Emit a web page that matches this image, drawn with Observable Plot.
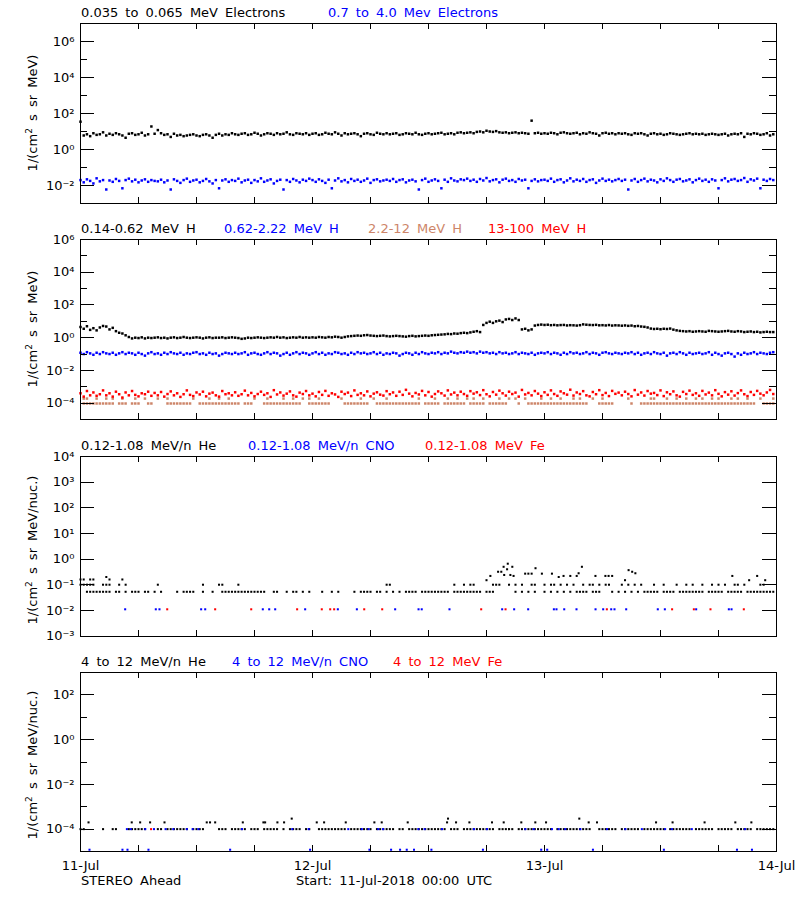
<!DOCTYPE html>
<html><head><meta charset="utf-8">
<script src="https://cdn.jsdelivr.net/npm/d3@7"></script>
<script src="https://cdn.jsdelivr.net/npm/@observablehq/plot@0.6"></script>
<style>
body{margin:0;background:#fff}
#root{position:relative;width:800px;height:900px;font-family:"DejaVu Sans",sans-serif;font-size:13px;word-spacing:3px;color:#000;overflow:hidden}
.t{position:absolute;white-space:pre;line-height:14px}
.yl{position:absolute;white-space:nowrap;line-height:14px;transform:translate(-50%,-50%) rotate(-90deg)}
.yl sup{font-size:9px;vertical-align:5px;line-height:0}
</style></head><body><div id="root"></div>
<script>
// ---------------- DATA (time in hours from 11-Jul-2018 00:00 UTC; dense series are 20-minute bins) ----------------
const binHours = 1 / 3;
const dayTickHours = [0, 24, 48, 72];
const dayTickLabels = ["11-Jul", "12-Jul", "13-Jul", "14-Jul"];
const sixHourTicks = [6, 12, 18, 24, 30, 36, 42, 48, 54, 60, 66];

// Panel 1: electrons, 1/(cm2 s sr MeV)
const e035_065 = [
 35,6,7,5.5,8,6.5,7,9,6,7.5,6.5,8,7,6,4.5,7.5,8,6.5,7,8.5,6,7,19,7.5,
 12,8,6.5,7,5,7.5,6,6.5,5.5,6,6.5,7,6,5.5,6.5,7,6,4.5,6.5,7.5,6,7,6.5,8,
 7,6.5,7.5,8,6.5,7,8.5,7.5,6,7,8,7.5,6.5,8,7,7.5,9,7,6.5,8,7.5,7,8,6.5,
 7.5,8,6.5,7,8.5,7.5,7,9,7.5,6,8,7,7.5,8,7,5.5,7.5,8,7,6.5,8.5,7.5,7,8,
 7,7.5,8,6.5,7,8,7.5,7,8.5,7,6.5,7.5,8,7,7.5,8,8.5,7,7.5,8,7,8.5,9,8,
 8.5,9,8,9.5,10,9,11,10,9.5,10.5,9,8.5,9,8,8.5,9,8,8.5,8,7.5,40,8,8.5,7.5,
 8,7.5,8.5,8,7,8.5,9,8,7.5,8,8.5,7,8,7.5,9,8,7.5,6,8,8.5,7.5,8,7,8,
 7.5,8,7,6.5,8,7.5,8,7,6,7.5,8,7,7.5,6.5,7,8,7.5,7,6.5,7,7.5,8,7,7.5,
 7,7.5,6.5,7,7.5,7,6.5,7,7.5,6,7,7.5,7,8,5,7.5,7,8,7.5,6.5,7,8,6,7
];
const e07_40 = [
 0.02,0.015,0.022,0.018,0.013,0.025,0.017,0.02,0.006,0.019,0.016,0.023,0.018,0.007,0.02,0.024,0.017,0.021,0.015,0.019,0.022,0.016,0.02,0.018,
 0.017,0.021,0.015,0.019,0.006,0.022,0.018,0.014,0.02,0.024,0.016,0.019,0.021,0.015,0.018,0.023,0.017,0.013,0.02,0.007,0.019,0.022,0.016,0.02,
 0.018,0.024,0.015,0.019,0.021,0.014,0.02,0.017,0.025,0.016,0.019,0.022,0.013,0.018,0.021,0.006,0.02,0.016,0.023,0.019,0.015,0.021,0.018,0.024,
 0.02,0.016,0.022,0.018,0.014,0.021,0.007,0.019,0.025,0.017,0.02,0.015,0.023,0.018,0.021,0.016,0.019,0.024,0.014,0.02,0.022,0.017,0.019,0.021,
 0.018,0.023,0.016,0.02,0.022,0.015,0.019,0.021,0.017,0.006,0.02,0.024,0.016,0.019,0.022,0.018,0.007,0.021,0.016,0.025,0.019,0.017,0.022,0.02,
 0.024,0.018,0.021,0.016,0.023,0.019,0.026,0.017,0.02,0.022,0.015,0.021,0.024,0.018,0.02,0.016,0.023,0.019,0.021,0.007,0.018,0.022,0.017,0.02,
 0.021,0.018,0.024,0.016,0.02,0.022,0.015,0.019,0.025,0.017,0.021,0.018,0.023,0.016,0.02,0.022,0.014,0.019,0.024,0.018,0.021,0.017,0.02,0.023,
 0.018,0.021,0.006,0.019,0.023,0.016,0.02,0.024,0.017,0.021,0.019,0.015,0.022,0.018,0.025,0.02,0.016,0.021,0.023,0.017,0.019,0.022,0.015,0.02,
 0.024,0.018,0.021,0.016,0.022,0.019,0.007,0.02,0.025,0.017,0.021,0.023,0.018,0.02,0.026,0.016,0.022,0.019,0.024,0.007,0.021,0.018,0.023,0.02
];

// Panel 2: protons, 1/(cm2 s sr MeV)
const h014_062 = [
 4.5,3.5,5,3,3.8,2.8,4.2,5.2,4.8,3.2,4,2.5,2,1.8,1.4,1.1,0.9,1,0.95,1.05,0.9,1,0.95,1,
 1.05,0.95,1,0.9,1,1.05,0.95,1,1.1,1,0.95,1,1.05,1,0.9,1,1.05,0.95,1,1,1.05,0.95,1,1.05,
 1,0.95,0.85,0.9,1,0.95,1,1.05,1,0.95,1,1.05,1,1.1,1,1.05,0.95,1,1.05,1,1.1,1,1.05,1,
 1.05,1,1.1,1.05,1,1.1,1.05,1.15,1.1,1,1.1,1.2,1.25,1.3,1.35,1.3,1.4,1.45,1.35,1.3,1.25,1.3,1.35,1.25,
 1.2,1.25,1.3,1.25,1.2,1.15,1.25,1.3,1.2,1.25,1.3,1.35,1.3,1.4,1.45,1.5,1.55,1.6,1.7,1.65,1.8,1.75,1.9,2,
 1.9,2.1,2.3,2.5,2.2,6,8,9.5,8,10,11,9,13,14,12,15,12,3.2,3.5,2.8,3.2,5.5,6,6.3,
 6,6.2,5.8,6,5.7,5.9,6,5.6,5.8,5.7,5.5,5.8,6.5,6.2,6,5.9,6.1,5.7,5.8,5.6,5.9,5.5,5.7,5.6,
 5.4,5.6,5.3,5.5,5,5.2,4.8,4.6,4.2,3.6,3.4,3.5,3.3,3.5,3.4,3.6,3.1,2.8,2.6,2.5,2.4,2.5,2.3,2.4,
 2.5,2.4,2.3,2.6,2.5,2.4,2.3,2.4,2.5,2.6,2.4,2.3,2.5,2.4,2.2,2.3,2.4,2.2,2.3,2.1,2.2,2.3,2.2,2.2
];
const h062_222 = [
 0.12,0.1,0.13,0.11,0.09,0.12,0.1,0.13,0.11,0.1,0.12,0.09,0.11,0.13,0.1,0.12,0.11,0.09,0.12,0.1,0.08,0.11,0.13,0.1,
 0.11,0.09,0.12,0.1,0.13,0.11,0.1,0.12,0.09,0.11,0.1,0.12,0.13,0.1,0.11,0.09,0.12,0.1,0.11,0.08,0.1,0.12,0.11,0.1,
 0.12,0.1,0.11,0.13,0.09,0.11,0.12,0.1,0.09,0.11,0.13,0.1,0.12,0.11,0.08,0.1,0.12,0.09,0.11,0.13,0.1,0.12,0.11,0.09,
 0.11,0.13,0.1,0.12,0.09,0.11,0.1,0.13,0.12,0.1,0.11,0.09,0.12,0.1,0.13,0.11,0.12,0.1,0.11,0.13,0.1,0.12,0.09,0.11,
 0.1,0.12,0.11,0.08,0.1,0.12,0.11,0.09,0.12,0.1,0.13,0.11,0.1,0.12,0.11,0.13,0.1,0.12,0.11,0.14,0.12,0.11,0.13,0.12,
 0.14,0.12,0.13,0.11,0.14,0.12,0.13,0.11,0.12,0.1,0.13,0.11,0.12,0.1,0.11,0.13,0.1,0.12,0.11,0.1,0.12,0.09,0.11,0.12,
 0.11,0.13,0.1,0.12,0.11,0.09,0.12,0.1,0.13,0.11,0.12,0.1,0.11,0.13,0.1,0.12,0.11,0.09,0.12,0.13,0.11,0.1,0.12,0.11,
 0.1,0.12,0.11,0.13,0.1,0.12,0.09,0.11,0.12,0.1,0.13,0.11,0.1,0.12,0.08,0.11,0.12,0.1,0.13,0.11,0.09,0.12,0.1,0.11,
 0.12,0.1,0.11,0.13,0.09,0.12,0.1,0.08,0.11,0.12,0.1,0.07,0.11,0.09,0.12,0.1,0.11,0.13,0.1,0.12,0.11,0.1,0.12,0.13
];
// 13-100 MeV H, in units of 1e-4
const h13_100_x1e4 = [
 4,2.5,5.5,3,4.5,2.8,3.5,6,3,4,2.5,5,3.5,2.2,4.5,3,5.5,3.2,2.6,4,3.5,5,2.8,4.2,
 3,4.8,2.5,3.6,5.2,3,4,2.4,3.5,6,3.2,2.7,4.5,3.4,5,2.6,3.8,4.4,3,2.5,5.5,3.5,4,3,
 4.6,2.8,3.5,5.8,3,4.2,2.6,3.6,5,3.2,4,2.4,6.2,3.4,4.5,2.9,3.8,5.2,3,2.5,4.4,3.6,5.5,3,
 3.8,2.6,4.8,3.2,5.6,2.8,4,3.4,2.4,5,3.6,4.4,2.7,6,3.2,4,3,5.2,2.6,3.8,4.6,3.3,2.9,5.4,
 3.5,4.5,2.8,5,3.2,6.5,3.8,2.6,4.2,3.4,5.6,3,4.8,2.5,3.6,5.2,4,2.9,6,3.4,4.4,3,5,3.6,
 2.8,5.4,3.8,4.6,3.1,6.2,3.5,2.6,4.8,3.3,5.8,4,2.9,5,3.6,4.4,2.5,6.4,3.4,4.2,3,5.5,3.8,2.7,
 4.6,3.2,6,3.6,2.8,5.2,4,3.3,6.6,2.9,4.5,3.6,5.4,3,2.6,4.8,3.5,6.2,3.1,4.2,2.7,5.6,3.7,4.4,
 3,5,3.6,2.6,6.3,3.3,4.5,2.9,5.5,3.8,4.2,3.1,6,2.7,4.6,3.5,5.2,3,2.5,4.9,3.6,5.8,3.2,4,
 2.8,5.6,3.4,4.4,3,6.2,3.7,2.6,4.7,3.3,5.3,2.9,4.1,6,3.5,2.7,4.8,3.2,5.6,3.8,3,4.5,6.4,3.6
];
// 2.2-12 MeV H: two count levels, listed by the 20-minute bins where each appears
const h22_12_levels = [0.95e-4, 1.9e-4];
const h22_12_lowBins = [1,2,3,4,5,6,7,8,9,10,12,13,14,16,17,18,21,22,27,28,29,30,31,32,33,34,37,38,39,40,41,42,43,44,45,46,47,48,49,51,52,53,57,58,59,60,61,62,63,64,65,66,67,68,71,72,73,74,75,76,77,82,83,84,85,86,87,88,89,92,93,94,95,96,97,98,99,100,101,102,103,104,105,107,108,109,110,111,113,114,115,116,117,118,119,121,122,123,124,125,127,128,129,130,131,132,136,139,140,141,142,143,144,145,146,147,148,149,150,151,152,153,154,155,156,157,161,162,163,164,165,171,174,175,176,177,178,179,180,181,182,183,184,185,186,187,188,189,190,191,192,193,194,195,196,197,198,199,200,201,202,203,204,205,206,207,208,209,212,213,214,215];
const h22_12_highBins = [1,2,5,8,10,13,17,20,24,27,35,40,43,46,54,58,63,66,69,71,74,81,87,91,95,105,110,114,117,120,122,125,130,133,135,138,143,146,149,153,155,159,162,170,177,178,182,185,188,191,193,196,198,202,204,207,211,215];

// Panel 3: 0.12-1.08 MeV/n, 1/(cm2 s sr MeV/nuc.)
const he012_baseLevel = 0.053;
const he012_baseBins = [2,3,4,5,6,7,8,9,11,12,14,16,17,18,20,21,23,25,30,32,33,34,35,38,41,44,45,46,47,48,49,50,51,52,53,54,55,56,57,60,61,64,66,67,69,71,75,78,80,85,87,88,89,90,92,93,95,97,99,101,102,103,104,106,107,108,109,110,111,112,113,114,116,117,118,119,120,121,122,123,124,126,127,128,135,137,139,141,144,146,148,150,152,154,155,156,157,159,160,161,165,167,169,171,173,175,176,177,178,179,181,182,183,184,186,187,188,189,190,191,192,193,195,196,197,198,199,201,202,203,204,205,207,208,209,210,211,212,213,214,215];
const he012_upper = [[0,0.1],[0,0.16],[0.33,0.1],[0.33,0.16],[0.67,0.1],[1,0.16],[1,0.1],[1.33,0.1],[1.33,0.16],[2.33,0.1],[2.67,0.1],[2.67,0.2],[3,0.1],[3,0.16],[4,0.1],[4.33,0.16],[4.67,0.1],[8,0.1],[12.67,0.1],[14.33,0.1],[14.67,0.1],[16.33,0.1],[31.67,0.1],[32,0.1],
 [38.67,0.1],[39.67,0.1],[40.33,0.1],[40.67,0.1],[42,0.15],[42.4,0.22],[42.67,0.1],[43,0.1],[43.2,0.32],[43.33,0.1],[43.53,0.32],[43.77,0.5],[43.83,0.24],[44.13,0.4],[44.2,0.66],[44.33,0.1],[44.47,0.24],[44.67,0.5],[44.8,0.22],[45,0.1],[45.67,0.1],[46,0.27],[46.33,0.27],[46.67,0.27],[46.67,0.1],[47,0.1],[47.07,0.44],[47.73,0.27],[48,0.1],[48.67,0.1],[48.77,0.27],[49,0.1],[49.47,0.2],[49.67,0.1],[49.97,0.22],[50.33,0.1],[50.67,0.22],[51,0.1],[51.33,0.22],[51.53,0.28],[51.87,0.5],[52,0.1],[52.67,0.1],[53,0.1],[53.27,0.22],[53.67,0.1],[54.3,0.22],[54.33,0.1],[54.63,0.22],[54.67,0.1],[55,0.22],[56,0.1],[56.33,0.15],[56.67,0.1],[56.7,0.37],[57.07,0.32],[57.33,0.1],[57.4,0.28],[58,0.1],[59.33,0.1],[60.33,0.1],[61.67,0.1],[62.67,0.1],[63.33,0.1],[64.33,0.1],[65.33,0.1],[66,0.1],[66.67,0.1],[67.43,0.22],[67.67,0.1],[68,0.1],[68.67,0.1],[69.17,0.15],[70,0.22],[70.33,0.1],[70.67,0.1],[70.83,0.15]];
const cno012_level = 0.011;
const cno012_hours = [4.62,7.79,8.17,12.48,12.9,18.86,19.52,20.14,23.24,26.62,28.59,32.55,34.97,35.3,38.17,43.62,44.86,46.31,48.97,49.24,50.04,51.31,53.28,54.07,54.9,55.24,56.45,59.72,60.45,63.69,67.07,67.35];
const fe012_level = 0.011;
const fe012_hours = [8.97,13.93,17.66,22.41,24.96,25.83,26.24,29.35,31.21,41.45,43.97,54.45,61.2,63.45,65.17,68.62];

// Panel 4: 4-12 MeV/n, 1/(cm2 s sr MeV/nuc.)
const he412_baseLevel = 1e-4;
const he412_baseBins = [0,1,7,10,11,15,16,17,18,19,20,24,25,27,28,29,30,31,32,33,35,36,37,38,43,44,45,47,48,49,50,51,53,54,55,57,58,59,60,61,63,65,66,67,68,70,71,74,75,76,77,78,79,80,81,82,84,85,86,87,88,89,90,92,93,94,95,96,97,99,100,102,103,104,105,106,107,108,109,110,111,112,113,115,116,117,119,120,121,122,123,124,125,126,127,128,130,131,132,133,134,136,137,138,139,140,141,142,143,144,145,146,148,149,150,151,152,153,154,155,156,157,158,161,162,163,164,165,166,168,169,170,171,172,173,175,176,177,178,179,180,181,183,184,185,186,187,188,189,191,192,193,194,195,196,198,199,200,201,202,204,205,206,207,208,210,211,212,213,214,215];
const he412_upper = [[0.83,2e-4],[5.3,2e-4],[6.17,2e-4],[7.2,2e-4],[8.69,2e-4],[13.06,2e-4],[13.4,2e-4],[13.93,2e-4],[16.79,2e-4],[18.92,2e-4],[19.1,2e-4],[20.37,2e-4],[21.06,2e-4],[21.85,2.95e-4],[24.44,2e-4],[25.2,2e-4],[27.44,2e-4],[30.4,2e-4],[31.16,2e-4],[33.85,2e-4],[37.92,2e-4],[38.02,2.95e-4],[38.85,2e-4],[40.23,2e-4],[42.57,2e-4],[43.78,2e-4],[45.6,2e-4],[47.05,2e-4],[48.16,2e-4],[51.6,2.95e-4],[52.57,2e-4],[53.43,2e-4],[59.54,2e-4],[61.25,2e-4],[64.56,2e-4],[67.74,2e-4],[69.4,2e-4]];
const cno412_levels = [1e-4, 1.2e-5];
const cno412_hoursHigh = [4.8,5.2,6.7,7.6,8.8,9.6,11,11.6,12.2,16.7,21.9,23.6,27.7,29.1,29.8,30.8,31.3,34.95,35.6,37.4,40.7,42.05,46.02,46.88,48.77,49.46,50.15,51.71,54.47,56.37,58.07,60.48,61.17,63.24,68.75];
const cno412_hoursLow = [0.93,4.34,4.86,7.03,15.48,23.75,29.89,32.13,33.06,33.75,34.5,36.3,41.63,47.66,48.28,53.01,60.35,67.91,69.46];
const fe412_level = 1e-4;
const fe412_hours = [7.3];

// ---------------- BUILD ----------------
const BLACK = "#000000", BLUE = "#0000ff", RED = "#ff0000", BROWN = "#cd8569";
const binned = arr => arr.map((v, i) => ({t: i * binHours, v}));
const leveled = (bins, level) => bins.map(b => ({t: b * binHours, v: level}));
const atHours = (hours, level) => hours.map(h => ({t: h, v: level}));
const pairs = arr => arr.map(([t, v]) => ({t, v}));

const SUP = {"-": "\u207B", "0": "\u2070", "1": "\u00B9", "2": "\u00B2", "3": "\u00B3", "4": "\u2074", "5": "\u2075", "6": "\u2076", "7": "\u2077", "8": "\u2078", "9": "\u2079"};
const pow10 = d => "10" + String(Math.round(Math.log10(d))).split("").map(c => SUP[c]).join("");

const DENSE = 1.4, SPARSE = 1.15;
const panels = [
  {top: 23, bottom: 203, domain: [1e-3, 1e7], major: [1e6, 1e4, 1e2, 1, 1e-2], minor: [1e5, 1e3, 10, 0.1], labels: [1e6, 1e4, 1e2, 1, 1e-2],
   series: [[binned(e035_065), BLACK, DENSE], [binned(e07_40), BLUE, DENSE]]},
  {top: 239, bottom: 419, domain: [1e-5, 1e6], major: [1e4, 1e2, 1, 1e-2, 1e-4], minor: [1e5, 1e3, 10, 0.1, 1e-3], labels: [1e6, 1e4, 1e2, 1, 1e-2, 1e-4],
   series: [[binned(h014_062), BLACK, DENSE], [binned(h062_222), BLUE, DENSE],
            [leveled(h22_12_lowBins, h22_12_levels[0]).concat(leveled(h22_12_highBins, h22_12_levels[1])), BROWN, DENSE],
            [binned(h13_100_x1e4).map(d => ({t: d.t, v: d.v * 1e-4})), RED, DENSE]]},
  {top: 455.5, bottom: 635, domain: [1e-3, 1e4], major: [1e3, 1e2, 10, 1, 0.1, 0.01], minor: [], labels: [1e4, 1e3, 1e2, 10, 1, 0.1, 0.01, 1e-3],
   series: [[leveled(he012_baseBins, he012_baseLevel).concat(pairs(he012_upper)), BLACK, SPARSE],
            [atHours(cno012_hours, cno012_level), BLUE, SPARSE], [atHours(fe012_hours, fe012_level), RED, SPARSE]]},
  {top: 672, bottom: 851, domain: [1e-5, 1e3], major: [1e2, 1, 1e-2, 1e-4], minor: [10, 0.1, 1e-3], labels: [1e2, 1, 1e-2, 1e-4], xLabels: true,
   series: [[leveled(he412_baseBins, he412_baseLevel).concat(pairs(he412_upper)), BLACK, SPARSE],
            [atHours(cno412_hoursHigh, cno412_levels[0]).concat(atHours(cno412_hoursLow, cno412_levels[1])), BLUE, SPARSE],
            [atHours(fe412_hours, fe412_level), RED, SPARSE]]}
];

const root = document.getElementById("root");
const W = 696;
for (const p of panels) {
  const H = p.bottom - p.top, mt = 12, mb = p.xLabels ? 30 : 12;
  const marks = [
    ...p.series.map(([data, color, r]) => Plot.dot(data.filter(d => d.v > 0), {x: "t", y: "v", symbol: "square", r, fill: color, stroke: "none"})),
    Plot.frame({stroke: "black", shapeRendering: "crispEdges"}),
    Plot.tickY(p.major, {y: d => d, insetRight: W - 14, shapeRendering: "crispEdges"}),
    Plot.tickY(p.major, {y: d => d, insetLeft: W - 14, shapeRendering: "crispEdges"}),
    Plot.tickY(p.minor, {y: d => d, insetRight: W - 7, shapeRendering: "crispEdges"}),
    Plot.tickY(p.minor, {y: d => d, insetLeft: W - 7, shapeRendering: "crispEdges"}),
    Plot.tickX(sixHourTicks, {x: d => d, insetBottom: H - 6, shapeRendering: "crispEdges"}),
    Plot.tickX(sixHourTicks, {x: d => d, insetTop: H - 6, shapeRendering: "crispEdges"}),
    Plot.axisY(p.labels, {anchor: "left", tickSize: 0, tickPadding: 6, tickFormat: pow10, label: null})
  ];
  if (p.xLabels) marks.push(Plot.axisX(dayTickHours, {anchor: "bottom", tickSize: 0, tickPadding: 9, tickFormat: (d, i) => dayTickLabels[i], label: null}));
  const svg = Plot.plot({
    width: 800, height: H + mt + mb,
    marginLeft: 80, marginRight: 24, marginTop: mt, marginBottom: mb,
    x: {domain: [0, 72], axis: p.xLabels ? undefined : null},
    y: {type: "log", domain: p.domain},
    style: {fontFamily: "DejaVu Sans, sans-serif", fontSize: "13px", background: "transparent", overflow: "visible", color: "black"},
    marks
  });
  svg.style.position = "absolute";
  svg.style.left = "0px";
  svg.style.top = (p.top - mt) + "px";
  root.appendChild(svg);
}

// ---------------- TEXT ----------------
const texts = [
  ["0.035 to 0.065 MeV Electrons", 81, 6, BLACK], ["0.7 to 4.0 Mev Electrons", 328, 6, BLUE],
  ["0.14-0.62 MeV H", 81, 222, BLACK], ["0.62-2.22 MeV H", 224, 222, BLUE], ["2.2-12 MeV H", 368, 222, BROWN], ["13-100 MeV H", 488, 222, RED],
  ["0.12-1.08 MeV/n He", 81, 439, BLACK], ["0.12-1.08 MeV/n CNO", 248, 439, BLUE], ["0.12-1.08 MeV Fe", 425, 439, RED],
  ["4 to 12 MeV/n He", 81, 655, BLACK], ["4 to 12 MeV/n CNO", 232, 655, BLUE], ["4 to 12 MeV Fe", 393, 655, RED],
  ["STEREO Ahead", 81, 874, BLACK], ["Start: 11-Jul-2018 00:00 UTC", 296, 874, BLACK]
];
for (const [s, x, y, c] of texts) {
  const el = document.createElement("div");
  el.className = "t"; el.textContent = s;
  el.style.left = x + "px"; el.style.top = y + "px"; el.style.color = c;
  root.appendChild(el);
}
const ylabels = [["MeV)", 113], ["MeV)", 329], ["MeV/nuc.)", 550], ["MeV/nuc.)", 765]];
for (const [unit, cy] of ylabels) {
  const el = document.createElement("div");
  el.className = "yl";
  el.innerHTML = "1/(cm<sup>2</sup> s sr " + unit;
  el.style.left = "33px"; el.style.top = cy + "px";
  root.appendChild(el);
}
</script></body></html>
